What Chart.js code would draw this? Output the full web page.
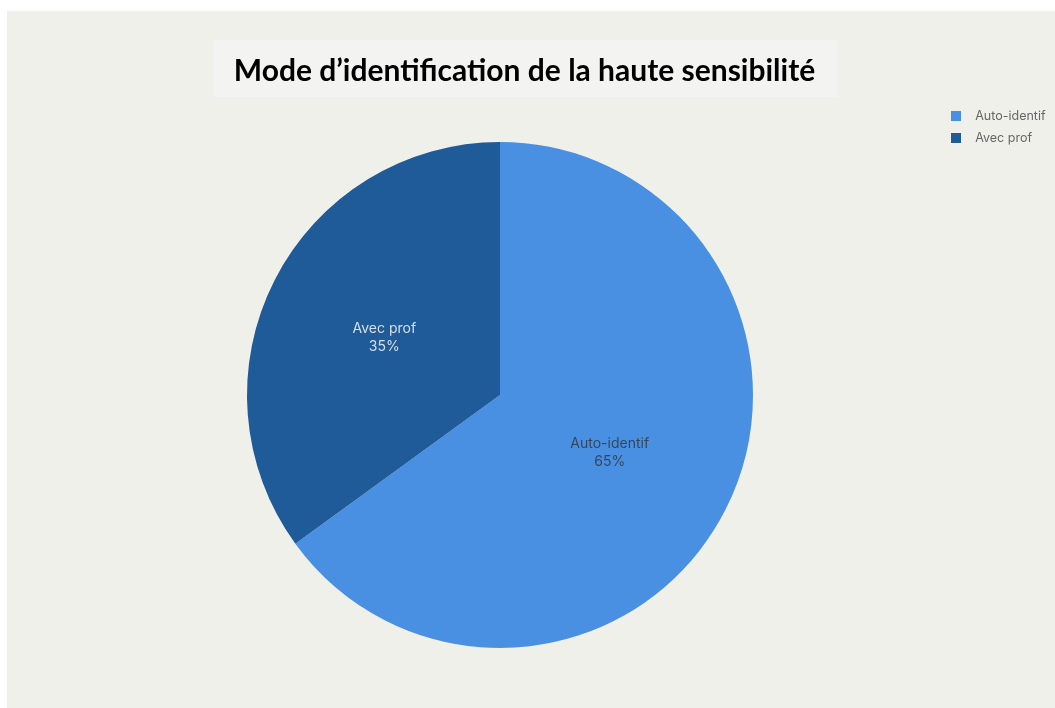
<!DOCTYPE html>
<html lang="fr">
<head>
<meta charset="utf-8">
<title>Mode d’identification de la haute sensibilité</title>
<script src="https://cdn.jsdelivr.net/npm/chart.js@4.4.1/dist/chart.umd.min.js"></script>
<style>
  html, body { margin: 0; padding: 0; background: #ffffff; }
  #wrap { width: 1055px; height: 708px; }
</style>
</head>
<body>
<div id="wrap"><canvas id="pie" width="1055" height="708"></canvas></div>
<script>
// Categories and their shares
const categories = ['Auto-identif', 'Avec prof'];
const shares = [65, 35];
const sliceColors = ['#4a90e2', '#1f5b98'];
const sliceTextColors = ['#34465c', '#d6dfea'];
const chartTitle = 'Mode d’identification de la haute sensibilité';

// Small filled squares used as legend swatches
function swatch(color) {
  const c = document.createElement('canvas');
  c.width = 10; c.height = 10;
  const g = c.getContext('2d');
  g.fillStyle = color;
  g.fillRect(0, 0, 10, 10);
  return c;
}

// Empty gutter on the left of the plot area (does not affect the title width)
const leftGutter = {
  id: 'leftGutter',
  beforeInit(chart) {
    Chart.layouts.addBox(chart, {
      position: 'left',
      weight: 0,
      fullSize: false,
      options: {},
      width: 0,
      height: 0,
      isHorizontal() { return false; },
      update(maxWidth, maxHeight) { this.width = 67; this.height = maxHeight; },
      draw() {}
    });
  }
};

// Page panel and the light band behind the title
const backdrop = {
  id: 'backdrop',
  beforeDraw(chart) {
    const ctx = chart.ctx;
    ctx.save();
    ctx.fillStyle = '#ffffff';
    ctx.fillRect(0, 0, chart.width, chart.height);
    ctx.fillStyle = '#f0f0eb';
    ctx.fillRect(7, 11, chart.width - 7, chart.height - 11);
    const t = chart.titleBlock;
    if (t) {
      const f = Chart.helpers.toFont(t.options.font);
      ctx.font = f.string;
      const w = ctx.measureText(chartTitle).width;
      const cx = (t.left + t.right) / 2;
      const cy = t.top + t.options.padding.top + f.lineHeight / 2;
      ctx.fillStyle = '#f3f3f2';
      ctx.fillRect(cx - w / 2 - 20, cy - 31, w + 42, 57);
    }
    ctx.restore();
  }
};

// Category name and percentage written inside each slice
const sliceLabels = {
  id: 'sliceLabels',
  afterDatasetsDraw(chart) {
    const ctx = chart.ctx;
    const meta = chart.getDatasetMeta(0);
    const data = chart.data.datasets[0].data;
    const total = data.reduce((a, b) => a + b, 0);
    ctx.save();
    ctx.font = '14px Inter, "Noto Sans", sans-serif';
    ctx.textAlign = 'center';
    ctx.textBaseline = 'middle';
    meta.data.forEach((arc, i) => {
      const p = arc.tooltipPosition();
      ctx.fillStyle = sliceTextColors[i];
      ctx.fillText(chart.data.labels[i], p.x - 3, p.y - 9);
      ctx.fillText(Math.round(data[i] / total * 100) + '%', p.x - 3, p.y + 9);
    });
    ctx.restore();
  }
};

new Chart(document.getElementById('pie'), {
  type: 'pie',
  data: {
    labels: categories,
    datasets: [{
      data: shares,
      backgroundColor: sliceColors,
      borderWidth: 0,
      hoverOffset: 0,
      offset: 0
    }]
  },
  options: {
    responsive: false,
    animation: false,
    events: [],
    layout: { padding: { left: 0, right: 6, top: 0, bottom: 60 } },
    plugins: {
      title: {
        display: true,
        text: chartTitle,
        color: '#000000',
        font: { family: 'Lato, "Open Sans", sans-serif', size: 30, weight: 'bold' },
        padding: { top: 53, bottom: 53 }
      },
      legend: {
        display: true,
        position: 'right',
        align: 'start',
        maxWidth: 116,
        title: { display: true, text: '', font: { size: 10 }, padding: { top: 87.5, bottom: 0 } },
        labels: {
          color: '#333d48',
          font: { family: 'Inter, "Noto Sans", sans-serif', size: 12.5 },
          usePointStyle: true,
          pointStyleWidth: 26,
          boxHeight: 10,
          padding: 10,
          generateLabels(chart) {
            return chart.data.labels.map((label, i) => ({
              text: label,
              fillStyle: sliceColors[i],
              strokeStyle: sliceColors[i],
              lineWidth: 0,
              pointStyle: swatch(sliceColors[i]),
              hidden: false,
              index: i
            }));
          }
        }
      },
      tooltip: { enabled: false }
    }
  },
  plugins: [leftGutter, backdrop, sliceLabels]
});
</script>
</body>
</html>
